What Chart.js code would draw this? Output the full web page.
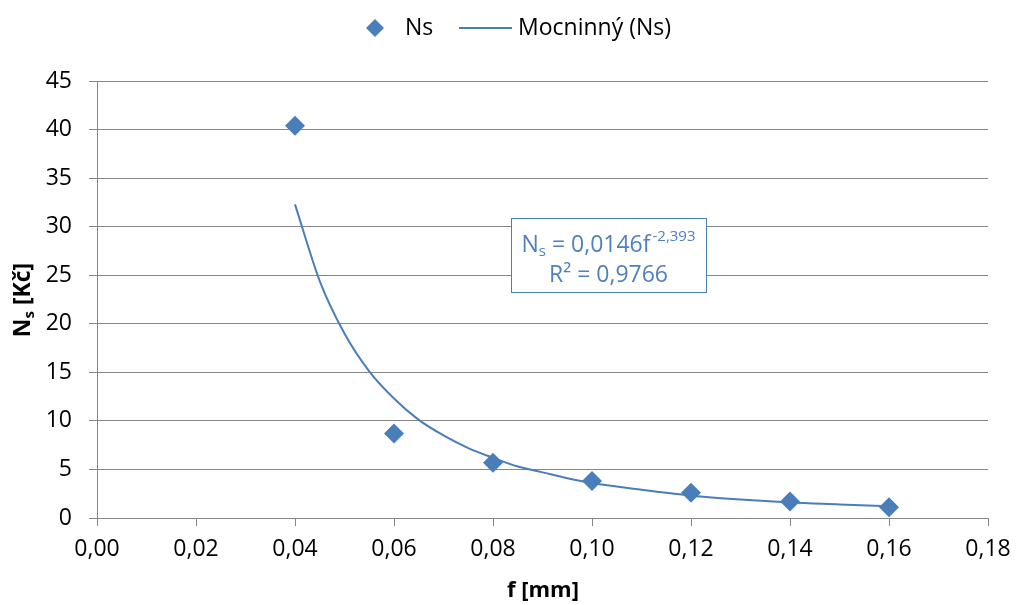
<!DOCTYPE html>
<html>
<head>
<meta charset="utf-8">
<script src="https://cdn.jsdelivr.net/npm/chart.js@4/dist/chart.umd.min.js"></script>
<style>
  html, body { margin: 0; padding: 0; background: #fff; }
  #wrap { width: 1016px; height: 605px; }
</style>
</head>
<body>
<div id="wrap"><canvas id="chart" width="1016" height="605"></canvas></div>
<script>
// measured points
const fValues = [0.04, 0.06, 0.08, 0.10, 0.12, 0.14, 0.16];
const nsValues = [40.4, 8.7, 5.7, 3.8, 2.6, 1.7, 1.1];

// power trend line
const trendF = [0.04, 0.045, 0.05, 0.055, 0.06, 0.065, 0.07, 0.075, 0.08, 0.085, 0.09, 0.095, 0.10, 0.11, 0.12, 0.13, 0.14, 0.15, 0.16];
const trendNs = [32.3, 24.4, 19.0, 15.1, 12.3, 10.1, 8.5, 7.2, 6.2, 5.3, 4.7, 4.1, 3.6, 2.9, 2.3, 1.9, 1.6, 1.4, 1.2];

const xTicks = [0, 0.02, 0.04, 0.06, 0.08, 0.10, 0.12, 0.14, 0.16, 0.18];
const yTicks = [0, 5, 10, 15, 20, 25, 30, 35, 40, 45];

const seriesName = "Ns";
const trendName = "Mocninný (Ns)";
const equation = { coef: "0,0146", exp: "-2,393", r2: "0,9766" };

const FONT = "'Open Sans', Lato, sans-serif";
const BLUE = "#4a7ebb";
const GRID = "#878787";

const toPoints = (xs, ys) => xs.map((x, i) => ({ x: x, y: ys[i] }));

const extras = {
  id: "extras",
  afterDraw(chart) {
    const ctx = chart.ctx;
    const area = chart.chartArea;
    ctx.save();

    // legend
    ctx.fillStyle = BLUE;
    ctx.beginPath();
    const lx = 375, ly = 28, r = 9;
    ctx.moveTo(lx, ly - r); ctx.lineTo(lx + r, ly); ctx.lineTo(lx, ly + r); ctx.lineTo(lx - r, ly); ctx.closePath();
    ctx.fill();
    ctx.font = "23px " + FONT;
    ctx.fillStyle = "#000";
    ctx.textBaseline = "middle";
    ctx.textAlign = "left";
    ctx.fillText(seriesName, 405, ly);
    ctx.strokeStyle = BLUE;
    ctx.lineWidth = 2;
    ctx.beginPath(); ctx.moveTo(459, ly); ctx.lineTo(512, ly); ctx.stroke();
    ctx.fillText(trendName, 518, ly);

    // x axis title
    ctx.font = "bold 22px " + FONT;
    ctx.textAlign = "center";
    ctx.fillText("f [mm]", 543, 591);

    // y axis title with subscript
    ctx.save();
    ctx.translate(22, 300);
    ctx.rotate(-Math.PI / 2);
    ctx.font = "bold 23px " + FONT;
    const wN = ctx.measureText("N").width;
    ctx.font = "bold 15px " + FONT;
    const wS = ctx.measureText("s").width;
    ctx.font = "bold 23px " + FONT;
    const wRest = ctx.measureText(" [Kč]").width;
    let x0 = -(wN + wS + wRest) / 2;
    ctx.textAlign = "left";
    ctx.textBaseline = "alphabetic";
    ctx.fillText("N", x0, 8);
    ctx.font = "bold 15px " + FONT;
    ctx.fillText("s", x0 + wN, 12);
    ctx.font = "bold 23px " + FONT;
    ctx.fillText(" [Kč]", x0 + wN + wS, 8);
    ctx.restore();

    // equation box
    const bx = area.left + 414, by = area.top + 137, bw = 195, bh = 74;
    ctx.fillStyle = "#fff";
    ctx.fillRect(bx, by, bw, bh);
    ctx.strokeStyle = BLUE;
    ctx.lineWidth = 1;
    ctx.strokeRect(bx + 0.5, by + 0.5, bw, bh);
    ctx.fillStyle = "#4f81bd";
    ctx.textBaseline = "alphabetic";
    ctx.textAlign = "left";
    const big = "23px " + FONT, small = "15px " + FONT;
    ctx.font = big;
    const a1 = ctx.measureText("N").width;
    const a3 = ctx.measureText(" = " + equation.coef + "f").width + 2;
    ctx.font = small;
    const a2 = ctx.measureText("s").width;
    const a4 = ctx.measureText(equation.exp).width;
    const cx = bx + bw / 2;
    let tx = cx - (a1 + a2 + a3 + a4) / 2;
    const base1 = by + 34;
    ctx.font = big; ctx.fillText("N", tx, base1); tx += a1;
    ctx.font = small; ctx.fillText("s", tx, base1 + 4); tx += a2;
    ctx.font = big; ctx.fillText(" = " + equation.coef + "f", tx, base1); tx += a3;
    ctx.font = small; ctx.fillText(equation.exp, tx, base1 - 11);
    ctx.font = big;
    ctx.textAlign = "center";
    ctx.fillText("R² = " + equation.r2, cx, by + 64);

    ctx.restore();
  }
};

new Chart(document.getElementById("chart"), {
  type: "scatter",
  data: {
    datasets: [
      {
        label: trendName,
        data: toPoints(trendF, trendNs),
        showLine: true,
        borderColor: BLUE,
        borderWidth: 2,
        pointRadius: 0,
        fill: false,
        cubicInterpolationMode: "monotone"
      },
      {
        label: seriesName,
        data: toPoints(fValues, nsValues),
        showLine: false,
        pointStyle: "rectRot",
        pointRadius: 10,
        backgroundColor: BLUE,
        borderColor: BLUE,
        borderWidth: 0
      }
    ]
  },
  options: {
    responsive: false,
    animation: false,
    layout: { padding: { left: 0, top: 81, right: 0, bottom: 0 } },
    plugins: { legend: { display: false }, tooltip: { enabled: false } },
    scales: {
      x: {
        type: "linear",
        min: 0, max: 0.18,
        afterFit(s) { s.height = 87; s.paddingRight = 28; s.paddingLeft = 0; },
        afterBuildTicks(s) { s.ticks = xTicks.map(v => ({ value: v })); },
        grid: { drawOnChartArea: false, color: GRID, tickLength: 8 },
        border: { color: GRID },
        ticks: {
          padding: 10,
          color: "#000",
          maxRotation: 0,
          autoSkip: false,
          font: { family: FONT, size: 23 },
          callback: v => v.toFixed(2).replace(".", ",")
        }
      },
      y: {
        min: 0, max: 45,
        afterFit(s) { s.width = 97; s.paddingTop = 0; s.paddingBottom = 0; },
        afterBuildTicks(s) { s.ticks = yTicks.map(v => ({ value: v })); },
        grid: { color: GRID, tickLength: 8 },
        border: { color: GRID },
        ticks: {
          padding: 17,
          color: "#000",
          autoSkip: false,
          font: { family: FONT, size: 23 },
          callback: v => String(v)
        }
      }
    }
  },
  plugins: [extras]
});
</script>
</body>
</html>
